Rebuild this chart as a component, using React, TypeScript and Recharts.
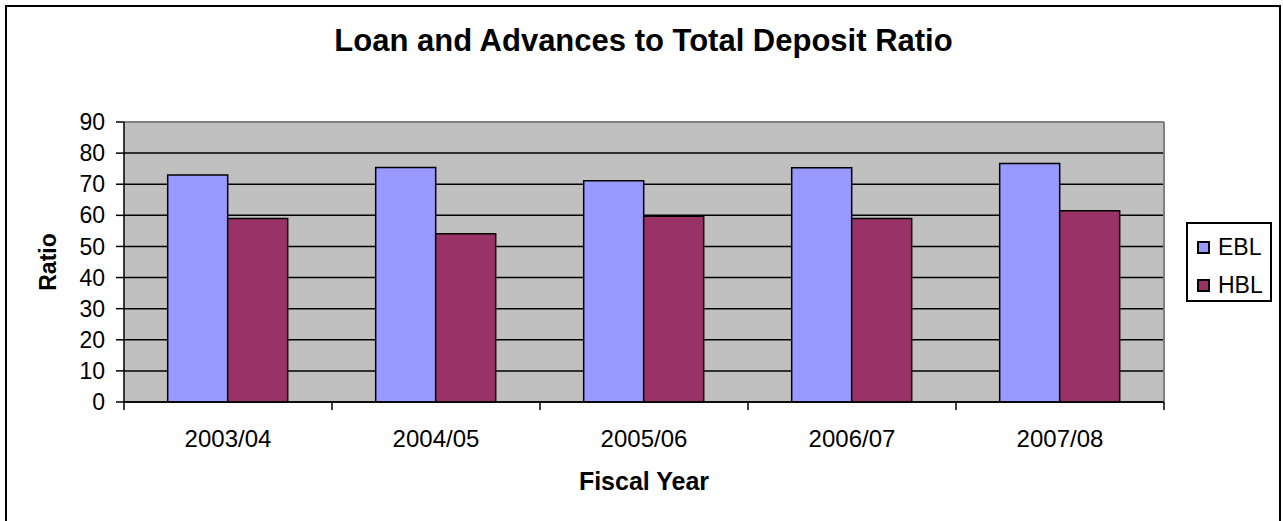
import React from 'react';
import {
  BarChart,
  Bar,
  XAxis,
  YAxis,
  CartesianGrid,
  Legend,
  ReferenceLine,
  Label,
} from 'recharts';

const categories = ['2003/04', '2004/05', '2005/06', '2006/07', '2007/08'];
const eblValues = [73.0, 75.4, 71.1, 75.3, 76.7];
const hblValues = [59.0, 54.1, 59.7, 59.0, 61.5];
const yTicks = [0, 10, 20, 30, 40, 50, 60, 70, 80, 90];

const data = categories.map((c, i) => ({ year: c, EBL: eblValues[i], HBL: hblValues[i] }));

const FONT = '"Liberation Sans", Arial, sans-serif';

const renderLegend = (props: any) => {
  const payload = props.payload || [];
  return (
    <div
      style={{
        width: 86,
        height: 80,
        boxSizing: 'border-box',
        border: '2px solid #000',
        background: '#fff',
        paddingTop: 4,
        paddingLeft: 9,
        fontFamily: FONT,
        fontSize: 23,
        color: '#000',
      }}
    >
      {payload.map((p: any) => (
        <div key={p.value} style={{ display: 'flex', alignItems: 'center', height: 38 }}>
          <span
            style={{
              display: 'inline-block',
              width: 13,
              height: 13,
              boxSizing: 'border-box',
              border: '2px solid #000',
              background: p.color,
              marginRight: 8,
            }}
          />
          <span>{p.value}</span>
        </div>
      ))}
    </div>
  );
};

const CategoryTick = (props: any) => {
  const { x, y, payload, index, visibleTicksCount } = props;
  const half = payload && typeof payload.offset === 'number' ? payload.offset : 0;
  const count = visibleTicksCount || categories.length;
  return (
    <g>
      {half > 0 && (
        <line x1={x - half} x2={x - half} y1={y} y2={y + 8} stroke="#000" strokeWidth={1.5} />
      )}
      {half > 0 && index === count - 1 && (
        <line x1={x + half} x2={x + half} y1={y} y2={y + 8} stroke="#000" strokeWidth={1.5} />
      )}
      <text
        x={x}
        y={y + 28}
        dy="0.71em"
        textAnchor="middle"
        fontFamily={FONT}
        fontSize={24}
        fill="#000"
      >
        {payload.value}
      </text>
    </g>
  );
};

const YTitle = (props: any) => {
  const vb = props.viewBox || {};
  const cx = (vb.x || 0) + 48;
  const cy = (vb.y || 0) + (vb.height || 0) / 2;
  return (
    <text
      x={cx}
      y={cy}
      transform={`rotate(-90, ${cx}, ${cy})`}
      textAnchor="middle"
      dominantBaseline="central"
      fontFamily={FONT}
      fontWeight="bold"
      fontSize={23}
      fill="#000"
    >
      Ratio
    </text>
  );
};

const XTitle = (props: any) => {
  const vb = props.viewBox || {};
  const cx = (vb.x || 0) + (vb.width || 0) / 2;
  return (
    <text
      x={cx}
      y={490}
      textAnchor="middle"
      fontFamily={FONT}
      fontWeight="bold"
      fontSize={25}
      fill="#000"
    >
      Fiscal Year
    </text>
  );
};

export default function App() {
  return (
    <div style={{ position: 'fixed', left: 0, top: 0, width: 1283, height: 521, overflow: 'hidden', background: '#fff' }}>
      <div
        style={{
          position: 'absolute',
          left: 5,
          top: 5,
          width: 1276,
          height: 540,
          boxSizing: 'border-box',
          border: '2px solid #000',
        }}
      />
      <div
        style={{
          position: 'absolute',
          left: 0,
          top: 26,
          width: 1287,
          textAlign: 'center',
          fontFamily: FONT,
          fontWeight: 'bold',
          fontSize: 31,
          lineHeight: '30px',
          color: '#000',
        }}
      >
        Loan and Advances to Total Deposit Ratio
      </div>
      <div style={{ position: 'absolute', left: 0, top: 0 }}>
        <BarChart
          width={1283}
          height={521}
          data={data}
          margin={{ top: 122, right: 33, bottom: 59, left: 0 }}
          barCategoryGap="21%"
          barGap={0}
        >
          <CartesianGrid
            vertical={false}
            fill="#C0C0C0"
            fillOpacity={1}
            stroke="#000"
            strokeWidth={1.5}
          />
          <XAxis
            dataKey="year"
            height={60}
            axisLine={{ stroke: '#000', strokeWidth: 1.5 }}
            tickLine={false}
            tickSize={0}
            tickMargin={0}
            interval={0}
            tick={<CategoryTick />}
          >
            <Label content={<XTitle />} position="bottom" />
          </XAxis>
          <YAxis
            width={124}
            domain={[0, 90]}
            ticks={yTicks}
            interval={0}
            tickSize={8}
            tickMargin={11}
            axisLine={{ stroke: '#000', strokeWidth: 1.5 }}
            tickLine={{ stroke: '#000', strokeWidth: 1.5 }}
            tick={{ fill: '#000', fontFamily: FONT, fontSize: 23 }}
          >
            <Label content={<YTitle />} position="insideLeft" />
          </YAxis>
          <ReferenceLine y={90} stroke="#808080" strokeWidth={2} />
          <ReferenceLine x="2007/08" position="end" stroke="#808080" strokeWidth={2} />
          <Bar
            dataKey="EBL"
            name="EBL"
            fill="#9999FF"
            stroke="#000"
            strokeWidth={1.5}
            isAnimationActive={false}
          />
          <Bar
            dataKey="HBL"
            name="HBL"
            fill="#993366"
            stroke="#000"
            strokeWidth={1.5}
            isAnimationActive={false}
          />
          <Legend
            layout="horizontal"
            verticalAlign="middle"
            align="right"
            content={renderLegend}
            wrapperStyle={{ position: 'absolute', left: 1186, top: 222, width: 86, height: 80 }}
          />
        </BarChart>
      </div>
    </div>
  );
}
